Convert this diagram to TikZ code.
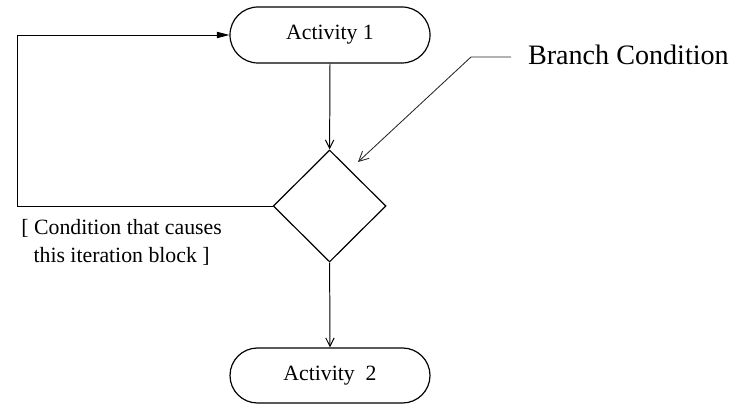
\documentclass[tikz,border=0pt]{standalone}
\usepackage{fontspec}
\setmainfont{Liberation Serif}
\usetikzlibrary{arrows.meta, positioning, shapes.geometric, shapes.misc, calc}

\begin{document}
\begin{tikzpicture}[
    x=1cm, y=1cm,
    every node/.style={font=\rmfamily\fontsize{15.5}{20}\selectfont, align=center, text=black},
    activity/.style={
      rounded rectangle, draw=black, line width=0.85pt,
      minimum width=5.0cm, minimum height=1.4cm, inner sep=0pt
    },
    decision/.style={
      diamond, aspect=1, draw=black, line width=0.85pt,
      minimum width=2.82cm, minimum height=2.8cm, inner sep=0pt
    },
    bigLabel/.style={font=\rmfamily\fontsize{20}{24}\selectfont},
    flow/.style={-{Straight Barb[length=6pt, width=6pt]}, draw=black, line width=0.7pt},
    back/.style={-{Triangle[length=9pt, width=4.5pt]}, draw=black, line width=0.7pt},
    lead/.style={-{Straight Barb[length=7pt, width=7pt]}, draw=black!85, line width=0.6pt}
  ]
    \useasboundingbox (0,0) rectangle (18.55,10.1);

    \node[activity] (act1) at (8.25,9.225) {Activity 1};
    \node[decision] (branch) at (8.24,4.95) {};
    \node[activity, minimum height=1.375cm] (act2) at (8.25,0.7125) {Activity\ \ 2};

    \node[bigLabel] (branchText) at (15.71,8.72) {Branch Condition};
    \node (guard) at (3.04,4.05) {[ Condition that causes\\this iteration block ]};

    \draw[flow] (act1.south) -- (branch.north);
    \draw[flow] (branch.south) -- (act2.north);

    \coordinate (loop) at (0.425,4.95);
    \draw[back] (branch.west) -- (loop) |- (act1.west);

    \coordinate (bend) at (11.775,8.675);
    \coordinate (tip) at (8.95,6.05);
    \draw[lead] ($(branchText.west)+(-0.3,-0.045)$) -- (bend) -- (tip);
  \end{tikzpicture}
\end{document}
